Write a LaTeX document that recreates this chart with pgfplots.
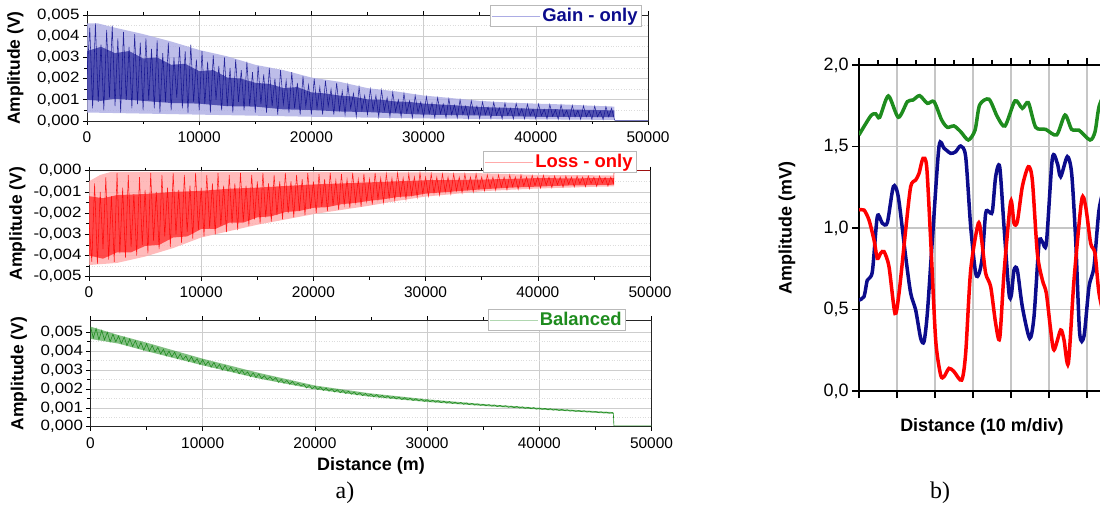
\documentclass[border=0pt]{standalone}
\usepackage{fontspec}
\setmainfont{Liberation Sans}
\newfontfamily\seriffont{Liberation Serif}
\newfontfamily\widesans[FakeStretch=1.13]{Liberation Sans}
\usepackage{pgfplots}
\pgfplotsset{compat=1.18}
\definecolor{navyb}{RGB}{12,12,140}
\definecolor{gainlight}{RGB}{172,172,228}
\definecolor{redb}{RGB}{255,0,0}
\definecolor{losslight}{RGB}{255,170,170}
\definecolor{greenb}{RGB}{30,140,30}
\definecolor{gridc}{RGB}{205,205,205}
\pgfplotsset{
  panela/.style={
    scale only axis, width=561bp,
    xmin=0, xmax=50000, scaled x ticks=false,
    xtick={0,10000,20000,30000,40000,50000},
    xticklabels={\textrm{0},\textrm{10000},\textrm{20000},\textrm{30000},\textrm{40000},\textrm{50000}},
    minor x tick num=1, minor y tick num=1,
    tick align=outside, xtick pos=both, ytick pos=left,
    major tick length=4bp, minor tick length=3bp,
    xmajorgrids, ymajorgrids, yminorgrids,
    major grid style={gridc, line width=0.6bp},
    minor grid style={gridc!70, line width=0.6bp, dotted},
    axis line style={black!85, line width=0.7bp},
    tick style={black, line width=0.6bp},
    xticklabel style={font=\fontsize{15.5}{15.5}\selectfont, yshift=-3bp},
    yticklabel style={font=\widesans\fontsize{15}{15}\selectfont},
    ylabel style={font=\bfseries\fontsize{17.5}{17.5}\selectfont, at={(axis description cs:-0.1275,0.5)}, anchor=center},
    xlabel style={font=\bfseries\fontsize{18}{18}\selectfont, at={(axis description cs:0.5,-0.365)}, anchor=center},
    legend style={draw=gray!55, fill=white, font=\bfseries\fontsize{18.5}{18.5}\selectfont, inner sep=1.2bp, row sep=0bp, cells={anchor=west}},
    legend image code/.code={\draw[#1] (0bp,0bp) -- (48bp,0bp);},
    clip=true
  }
}
\begin{document}
\begin{tikzpicture}
\path[use as bounding box] (0,0) rectangle (1100bp,512bp);
\clip (0,0) rectangle (1100bp,512bp);

% ---------- a) top: Gain - only ----------
\begin{axis}[panela, at={(87bp,391bp)}, anchor=south west, height=106bp,
  ymin=0, ymax=5, ytick={0,1,2,3,4,5},
  yticklabels={\mbox{0,000},\mbox{0,001},\mbox{0,002},\mbox{0,003},\mbox{0,004},\mbox{0,005}},
  ylabel={Amplitude (V)},
  legend style={at={(0.9875,1.094)}, anchor=north east}]
\addplot[fill=gainlight, draw=none, opacity=0.8, forget plot] coordinates {
(0,4.6)(1000,4.6)(2500,4.4)(5000,4.1)(7500,3.75)(10000,3.35)(12500,3.05)(15000,2.65)(17500,2.4)(20000,2.05)(22500,1.85)(25000,1.55)(27500,1.4)(30000,1.2)(32500,1.08)(35000,0.95)(37500,0.87)(40000,0.82)(42500,0.78)(45000,0.72)(47000,0.68)
(47000,0.05)(40000,0.08)(30000,0.12)(20000,0.2)(10000,0.3)(5000,0.35)(0,0.4)} -- cycle;
\addplot[fill=navyb, draw=none, opacity=0.6, forget plot] coordinates {
(0,3.3)(1250,3.5)(2500,3.2)(3750,3.3)(5000,2.95)(6250,3.0)(7500,2.65)(8750,2.7)(10000,2.35)(11250,2.4)(12500,2.05)(13750,2.0)(15000,1.8)(16250,1.75)(17500,1.55)(18750,1.6)(20000,1.35)(21250,1.3)(22500,1.2)(23750,1.15)(25000,1.02)(26250,1.0)(27500,0.92)(28750,0.9)(30000,0.82)(32500,0.75)(35000,0.66)(37500,0.62)(40000,0.57)(42500,0.55)(45000,0.52)(47000,0.5)
(47000,0.18)(42500,0.2)(40000,0.2)(35000,0.26)(30000,0.3)(27500,0.36)(25000,0.42)(22500,0.45)(20000,0.52)(17500,0.55)(15000,0.68)(12500,0.7)(10000,0.82)(7500,0.85)(5000,0.95)(2500,1.05)(1250,0.95)(0,1.0)} -- cycle;
\addplot[navyb, line width=0.55bp, opacity=0.85, forget plot] coordinates {
(0,2.2)(250,4.4)(500,0.6)(750,4.6)(1000,0.9)(1250,3.6)(1500,0.5)(1750,4.3)(2000,1.1)(2250,4.5)(2500,0.7)(2750,3.9)(3000,0.4)(3250,4.2)(3500,1.0)(3750,3.5)(4000,0.6)(4250,4.1)(4500,0.8)(4750,3.7)(5000,0.5)
(5250,3.9)(5500,1.0)(5750,3.4)(6000,0.6)(6250,3.8)(6500,0.4)(6750,3.2)(7000,0.9)(7250,3.7)(7500,0.5)(7750,3.0)(8000,1.1)(8250,3.5)(8500,0.6)(8750,3.3)(9000,0.4)(9250,3.6)(9500,0.9)(9750,2.9)(10000,0.5)
(10250,3.3)(10500,0.8)(10750,2.8)(11000,0.4)(11250,3.1)(11500,1.0)(11750,2.6)(12000,0.5)(12250,3.0)(12500,0.7)(12750,2.5)(13000,0.4)(13250,2.9)(13500,0.9)(13750,2.4)(14000,0.5)(14250,2.8)(14500,0.7)(14750,2.3)(15000,0.4)
(15250,2.6)(15500,0.8)(15750,2.2)(16000,0.4)(16250,2.5)(16500,0.7)(16750,2.0)(17000,0.3)(17250,2.4)(17500,0.8)(17750,1.9)(18000,0.4)(18250,2.3)(18500,0.6)(18750,1.8)(19000,0.3)(19250,2.1)(19500,0.7)(19750,1.7)(20000,0.3)
(20250,2.0)(20500,0.6)(20750,1.6)(21000,0.3)(21250,1.9)(21500,0.7)(21750,1.5)(22000,0.3)(22250,1.8)(22500,0.5)(22750,1.4)(23000,0.3)(23250,1.7)(23500,0.6)(23750,1.3)(24000,0.2)(24250,1.6)(24500,0.5)(24750,1.2)(25000,0.3)
(25250,1.5)(25500,0.5)(25750,1.2)(26000,0.2)(26250,1.45)(26500,0.5)(26750,1.1)(27000,0.2)(27250,1.35)(27500,0.45)(27750,1.0)(28000,0.2)(28250,1.3)(28500,0.4)(28750,0.95)(29000,0.15)(29250,1.2)(29500,0.4)(29750,0.9)(30000,0.2)
(30250,1.15)(30500,0.35)(30750,0.85)(31000,0.15)(31250,1.1)(31500,0.35)(31750,0.8)(32000,0.15)(32250,1.05)(32500,0.3)(32750,0.75)(33000,0.15)(33250,1.0)(33500,0.3)(33750,0.7)(34000,0.12)(34250,0.95)(34500,0.3)(34750,0.7)(35000,0.12)
(35250,0.9)(35500,0.3)(35750,0.65)(36000,0.12)(36250,0.88)(36500,0.28)(36750,0.62)(37000,0.1)(37250,0.85)(37500,0.28)(37750,0.6)(38000,0.1)(38250,0.83)(38500,0.25)(38750,0.58)(39000,0.1)(39250,0.8)(39500,0.25)(39750,0.56)(40000,0.1)
(40250,0.8)(40500,0.25)(40750,0.55)(41000,0.1)(41250,0.78)(41500,0.22)(41750,0.52)(42000,0.08)(42250,0.76)(42500,0.22)(42750,0.5)(43000,0.08)(43250,0.74)(43500,0.2)(43750,0.5)(44000,0.08)(44250,0.72)(44500,0.2)(44750,0.48)(45000,0.08)
(45250,0.7)(45500,0.2)(45750,0.46)(46000,0.07)(46250,0.68)(46500,0.2)(46750,0.6)(47000,0.1)(47050,0.03)(50000,0.03)};
\addlegendimage{gainlight, line width=0.6bp}
\addlegendentry{\textcolor{navyb}{Gain - only}}
\end{axis}

% ---------- a) middle: Loss - only ----------
\begin{axis}[panela, at={(89bp,235.3bp)}, anchor=south west, height=106bp,
  ymin=-5, ymax=0, ytick={-5,-4,-3,-2,-1,0},
  yticklabels={\mbox{-0,005},\mbox{-0,004},\mbox{-0,003},\mbox{-0,002},\mbox{-0,001},\mbox{0,000}},
  ylabel={Amplitude (V)},
  legend style={at={(0.975,1.186)}, anchor=north east}]
\addplot[fill=losslight, draw=none, opacity=0.8, forget plot] coordinates {
(0,-4.45)(2500,-4.35)(5000,-4.05)(7500,-3.65)(10000,-3.15)(12500,-2.85)(15000,-2.55)(17500,-2.3)(20000,-2.05)(22500,-1.85)(25000,-1.65)(27500,-1.42)(30000,-1.22)(32500,-1.1)(35000,-0.97)(37500,-0.9)(40000,-0.84)(42500,-0.8)(45000,-0.76)(46800,-0.74)
(46800,-0.22)(40000,-0.2)(35000,-0.12)(30000,-0.08)(2000,-0.05)(1000,-0.2)(0,-0.5)} -- cycle;
\addplot[fill=redb, draw=none, opacity=0.6, forget plot] coordinates {
(0,-4.0)(1250,-4.15)(2500,-3.85)(3750,-3.85)(5000,-3.55)(6250,-3.5)(7500,-3.15)(8750,-3.1)(10000,-2.75)(11250,-2.75)(12500,-2.45)(13750,-2.45)(15000,-2.2)(16250,-2.15)(17500,-1.95)(18750,-1.9)(20000,-1.75)(21250,-1.72)(22500,-1.58)(23750,-1.52)(25000,-1.42)(26250,-1.35)(27500,-1.24)(28750,-1.2)(30000,-1.08)(32500,-0.98)(35000,-0.88)(37500,-0.8)(40000,-0.75)(42500,-0.7)(45000,-0.68)(46800,-0.66)
(46800,-0.35)(42500,-0.36)(40000,-0.35)(35000,-0.42)(30000,-0.45)(27500,-0.5)(25000,-0.55)(22500,-0.6)(20000,-0.65)(17500,-0.72)(15000,-0.8)(12500,-0.85)(10000,-0.95)(7500,-1.0)(5000,-1.1)(2500,-1.15)(1250,-1.3)(0,-1.2)} -- cycle;
\addplot[redb, line width=0.55bp, opacity=0.85, forget plot] coordinates {
(0,-2.4)(250,-4.3)(500,-0.6)(750,-4.4)(1000,-1.0)(1250,-3.7)(1500,-0.3)(1750,-4.2)(2000,-1.2)(2250,-4.3)(2500,-0.1)(2750,-3.9)(3000,-0.8)(3250,-4.1)(3500,-0.2)(3750,-3.6)(4000,-1.1)(4250,-4.0)(4500,-0.3)(4750,-3.5)(5000,-0.9)
(5250,-3.9)(5500,-0.1)(5750,-3.3)(6000,-1.0)(6250,-3.7)(6500,-0.2)(6750,-3.1)(7000,-0.8)(7250,-3.6)(7500,-0.1)(7750,-3.0)(8000,-0.9)(8250,-3.4)(8500,-0.2)(8750,-2.9)(9000,-0.7)(9250,-3.2)(9500,-0.1)(9750,-2.8)(10000,-0.8)
(10250,-3.1)(10500,-0.2)(10750,-2.7)(11000,-0.6)(11250,-3.0)(11500,-0.1)(11750,-2.6)(12000,-0.7)(12250,-2.9)(12500,-0.2)(12750,-2.5)(13000,-0.6)(13250,-2.8)(13500,-0.1)(13750,-2.4)(14000,-0.7)(14250,-2.6)(14500,-0.2)(14750,-2.3)(15000,-0.5)
(15250,-2.5)(15500,-0.1)(15750,-2.2)(16000,-0.6)(16250,-2.4)(16500,-0.2)(16750,-2.1)(17000,-0.5)(17250,-2.3)(17500,-0.1)(17750,-2.0)(18000,-0.5)(18250,-2.2)(18500,-0.2)(18750,-1.9)(19000,-0.4)(19250,-2.1)(19500,-0.1)(19750,-1.8)(20000,-0.5)
(20250,-2.0)(20500,-0.15)(20750,-1.7)(21000,-0.4)(21250,-1.9)(21500,-0.1)(21750,-1.65)(22000,-0.45)(22250,-1.85)(22500,-0.15)(22750,-1.6)(23000,-0.4)(23250,-1.75)(23500,-0.1)(23750,-1.5)(24000,-0.4)(24250,-1.7)(24500,-0.15)(24750,-1.45)(25000,-0.4)
(25250,-1.6)(25500,-0.1)(25750,-1.35)(26000,-0.35)(26250,-1.5)(26500,-0.15)(26750,-1.3)(27000,-0.35)(27250,-1.4)(27500,-0.1)(27750,-1.2)(28000,-0.35)(28250,-1.35)(28500,-0.15)(28750,-1.15)(29000,-0.3)(29250,-1.25)(29500,-0.1)(29750,-1.1)(30000,-0.3)
(30250,-1.2)(30500,-0.15)(30750,-1.05)(31000,-0.3)(31250,-1.15)(31500,-0.15)(31750,-1.0)(32000,-0.3)(32250,-1.1)(32500,-0.15)(32750,-0.95)(33000,-0.3)(33250,-1.05)(33500,-0.15)(33750,-0.9)(34000,-0.3)(34250,-1.0)(34500,-0.15)(34750,-0.85)(35000,-0.3)
(35250,-0.95)(35500,-0.2)(35750,-0.8)(36000,-0.3)(36250,-0.92)(36500,-0.2)(36750,-0.78)(37000,-0.3)(37250,-0.9)(37500,-0.2)(37750,-0.75)(38000,-0.3)(38250,-0.88)(38500,-0.2)(38750,-0.72)(39000,-0.3)(39250,-0.85)(39500,-0.22)(39750,-0.7)(40000,-0.3)
(40250,-0.82)(40500,-0.22)(40750,-0.68)(41000,-0.3)(41250,-0.8)(41500,-0.25)(41750,-0.66)(42000,-0.3)(42250,-0.78)(42500,-0.25)(42750,-0.64)(43000,-0.3)(43250,-0.76)(43500,-0.25)(43750,-0.62)(44000,-0.3)(44250,-0.75)(44500,-0.25)(44750,-0.6)(45000,-0.3)
(45250,-0.74)(45500,-0.25)(45750,-0.58)(46000,-0.32)(46250,-0.72)(46500,-0.3)(46750,-0.6)(46800,0.0)(50000,0.0)};
\addlegendimage{losslight, line width=0.6bp}
\addlegendentry{\textcolor{redb}{Loss - only}}
\end{axis}

% ---------- a) bottom: Balanced ----------
\begin{axis}[panela, at={(90.5bp,85.3bp)}, anchor=south west, height=106.5bp,
  ymin=0, ymax=5.64, ytick={0,1,2,3,4,5},
  yticklabels={\mbox{0,000},\mbox{0,001},\mbox{0,002},\mbox{0,003},\mbox{0,004},\mbox{0,005}},
  ylabel={Amplitude (V)}, xlabel={Distance (m)},
  legend style={at={(0.953,1.105)}, anchor=north east}]
\addplot[fill=greenb, draw=none, opacity=0.55, forget plot] coordinates {
(0,5.3)(2500,4.85)(5000,4.45)(10000,3.6)(15000,2.85)(20000,2.18)(25000,1.76)(30000,1.45)(35000,1.2)(40000,1.0)(46600,0.77)
(46600,0.68)(40000,0.91)(35000,1.1)(30000,1.31)(25000,1.58)(20000,1.98)(15000,2.55)(10000,3.25)(5000,4.0)(2500,4.4)(0,4.65)} -- cycle;
\addplot[greenb, line width=0.6bp, forget plot] coordinates {
(0,5.3)(250,4.7)(500,5.2)(750,4.6)(1000,5.1)(1250,4.6)(1500,5.0)(1750,4.5)(2000,4.9)(2250,4.5)(2500,4.8)(2750,4.4)(3000,4.75)(3250,4.3)(3500,4.65)(3750,4.25)(4000,4.55)(4250,4.15)(4500,4.45)(4750,4.05)(5000,4.4)
(5250,4.0)(5500,4.3)(5750,3.95)(6000,4.2)(6250,3.85)(6500,4.1)(6750,3.75)(7000,4.0)(7250,3.7)(7500,3.95)(7750,3.6)(8000,3.85)(8250,3.55)(8500,3.75)(8750,3.45)(9000,3.7)(9250,3.4)(9500,3.6)(9750,3.3)(10000,3.55)
(10250,3.25)(10500,3.45)(10750,3.15)(11000,3.4)(11250,3.1)(11500,3.3)(11750,3.0)(12000,3.25)(12250,2.95)(12500,3.15)(12750,2.9)(13000,3.05)(13250,2.8)(13500,3.0)(13750,2.75)(14000,2.9)(14250,2.65)(14500,2.85)(14750,2.6)(15000,2.8)
(15250,2.55)(15500,2.7)(15750,2.5)(16000,2.65)(16250,2.45)(16500,2.6)(16750,2.35)(17000,2.5)(17250,2.3)(17500,2.45)(17750,2.25)(18000,2.4)(18250,2.2)(18500,2.3)(18750,2.15)(19000,2.25)(19250,2.05)(19500,2.2)(19750,2.0)(20000,2.15)
(20250,1.97)(20500,2.1)(20750,1.92)(21000,2.05)(21250,1.88)(21500,2.0)(21750,1.84)(22000,1.96)(22250,1.8)(22500,1.92)(22750,1.76)(23000,1.88)(23250,1.72)(23500,1.84)(23750,1.68)(24000,1.8)(24250,1.65)(24500,1.76)(24750,1.62)(25000,1.73)
(25250,1.59)(25500,1.7)(25750,1.56)(26000,1.66)(26250,1.53)(26500,1.63)(26750,1.5)(27000,1.6)(27250,1.47)(27500,1.57)(27750,1.44)(28000,1.54)(28250,1.42)(28500,1.51)(28750,1.39)(29000,1.48)(29250,1.37)(29500,1.45)(29750,1.34)(30000,1.43)
(30250,1.32)(30500,1.4)(30750,1.3)(31000,1.38)(31250,1.27)(31500,1.35)(31750,1.25)(32000,1.33)(32250,1.23)(32500,1.3)(32750,1.21)(33000,1.28)(33250,1.19)(33500,1.26)(33750,1.17)(34000,1.23)(34250,1.15)(34500,1.21)(34750,1.13)(35000,1.19)
(35250,1.11)(35500,1.17)(35750,1.09)(36000,1.15)(36250,1.07)(36500,1.13)(36750,1.05)(37000,1.11)(37250,1.03)(37500,1.09)(37750,1.01)(38000,1.07)(38250,0.99)(38500,1.05)(38750,0.97)(39000,1.03)(39250,0.95)(39500,1.01)(39750,0.93)(40000,0.99)
(40250,0.92)(40500,0.97)(40750,0.9)(41000,0.95)(41250,0.88)(41500,0.93)(41750,0.86)(42000,0.91)(42250,0.85)(42500,0.89)(42750,0.83)(43000,0.87)(43250,0.81)(43500,0.85)(43750,0.8)(44000,0.84)(44250,0.78)(44500,0.82)(44750,0.77)(45000,0.8)
(45250,0.75)(45500,0.78)(45750,0.73)(46000,0.77)(46250,0.72)(46500,0.75)(46600,0.7)(46650,0.04)(50000,0.04)};
\addlegendimage{greenb!35, line width=0.6bp}
\addlegendentry{\textcolor{greenb}{Balanced}}
\end{axis}

% ---------- b) ----------
\begin{axis}[at={(859bp,121bp)}, anchor=south west, scale only axis,
  width=247bp, height=326bp, xmin=0, xmax=6.5, ymin=0, ymax=2,
  xtick={0,1,2,3,4,5,6}, xticklabels={},
  ytick={0,0.5,1,1.5,2},
  yticklabels={\textrm{0,0},\textrm{0,5},\textrm{1,0},\textrm{1,5},\textrm{2,0}},
  tick align=outside, xtick pos=both, ytick pos=left,
  major tick length=7bp,
  grid=major, major grid style={gray!45, line width=1.5bp},
  axis line style={black, line width=1.2bp},
  tick style={black, line width=1.2bp},
  ticklabel style={font=\fontsize{18}{18}\selectfont},
  ylabel={Amplitude (mV)}, xlabel={Distance (10 m/div)},
  ylabel style={font=\bfseries\fontsize{18}{18}\selectfont, at={(axis description cs:-0.2915,0.5)}, anchor=center},
  xlabel style={font=\bfseries\fontsize{18}{18}\selectfont, at={(axis description cs:0.498,-0.11)}, anchor=center},
  every axis plot/.append style={line width=3.5bp, smooth, tension=0.45}]
\addplot[color=greenb] coordinates {
(0,1.571)(0.307,1.687)(0.439,1.70)(0.544,1.679)(0.772,1.81)(1.035,1.679)(1.272,1.775)(1.421,1.785)(1.596,1.812)(1.798,1.765)(1.974,1.775)(2.175,1.663)(2.325,1.618)(2.5,1.626)(2.675,1.591)(2.877,1.54)(3.053,1.60)(3.175,1.755)(3.421,1.79)(3.64,1.683)(3.842,1.626)(4.105,1.78)(4.298,1.734)(4.456,1.769)(4.649,1.618)(4.912,1.605)(5.202,1.571)(5.421,1.693)(5.596,1.605)(5.789,1.60)(6.079,1.54)(6.211,1.59)(6.316,1.744)(6.5,1.85)};
\addplot[color=navyb] coordinates {
(0,0.558)(0.132,0.579)(0.219,0.68)(0.351,0.732)(0.482,1.07)(0.614,1.029)(0.746,1.033)(0.904,1.254)(1.035,1.19)(1.228,0.824)(1.36,0.6)(1.491,0.497)(1.623,0.323)(1.711,0.303)(1.798,0.476)(1.93,0.926)(2.105,1.499)(2.237,1.489)(2.412,1.458)(2.544,1.468)(2.675,1.503)(2.807,1.438)(2.939,1.008)(3.07,0.722)(3.158,0.72)(3.246,0.824)(3.333,1.09)(3.421,1.10)(3.509,1.10)(3.596,1.315)(3.702,1.376)(3.816,1.008)(3.947,0.6)(4.009,0.589)(4.079,0.742)(4.167,0.742)(4.298,0.517)(4.491,0.323)(4.605,0.456)(4.737,0.906)(4.825,0.916)(4.93,0.906)(5.088,1.427)(5.219,1.397)(5.307,1.315)(5.482,1.438)(5.596,1.335)(5.702,0.926)(5.807,0.354)(5.921,0.337)(6.053,0.64)(6.184,0.763)(6.316,1.11)(6.5,1.3)};
\addplot[color=redb] coordinates {
(0,1.11)(0.132,1.11)(0.263,1.049)(0.395,0.926)(0.482,0.814)(0.570,0.845)(0.658,0.855)(0.789,0.763)(0.947,0.476)(1.053,0.6)(1.228,0.988)(1.36,1.254)(1.491,1.294)(1.579,1.335)(1.684,1.427)(1.781,1.376)(1.886,0.926)(2.018,0.313)(2.149,0.098)(2.237,0.088)(2.368,0.139)(2.5,0.119)(2.702,0.067)(2.807,0.231)(2.939,0.742)(3.14,1.029)(3.228,0.926)(3.333,0.722)(3.465,0.64)(3.596,0.415)(3.702,0.323)(3.816,0.722)(3.991,1.162)(4.079,1.029)(4.167,1.039)(4.298,1.254)(4.456,1.376)(4.561,1.294)(4.693,0.845)(4.825,0.681)(4.93,0.6)(5.044,0.374)(5.132,0.252)(5.307,0.374)(5.395,0.313)(5.509,0.17)(5.658,0.681)(5.86,1.172)(5.965,1.131)(6.096,0.906)(6.211,0.845)(6.316,0.6)(6.5,0.4)};
\end{axis}
\begin{axis}[at={(859bp,121bp)}, anchor=south west, scale only axis,
  width=247bp, height=326bp, xmin=0, xmax=6.5, ymin=0, ymax=2,
  axis x line*=top, hide y axis, xtick={0.5,1.5,2.5,3.5,4.5,5.5,6.5}, xticklabels={},
  tick align=outside, major tick length=5bp, tick style={black, line width=1.2bp},
  axis line style={draw=none}]
\end{axis}

\node[font=\seriffont\fontsize{24}{24}\selectfont] at (345bp,19bp) {a)};
\node[font=\seriffont\fontsize{24}{24}\selectfont] at (940bp,19bp) {b)};
\end{tikzpicture}
\end{document}
